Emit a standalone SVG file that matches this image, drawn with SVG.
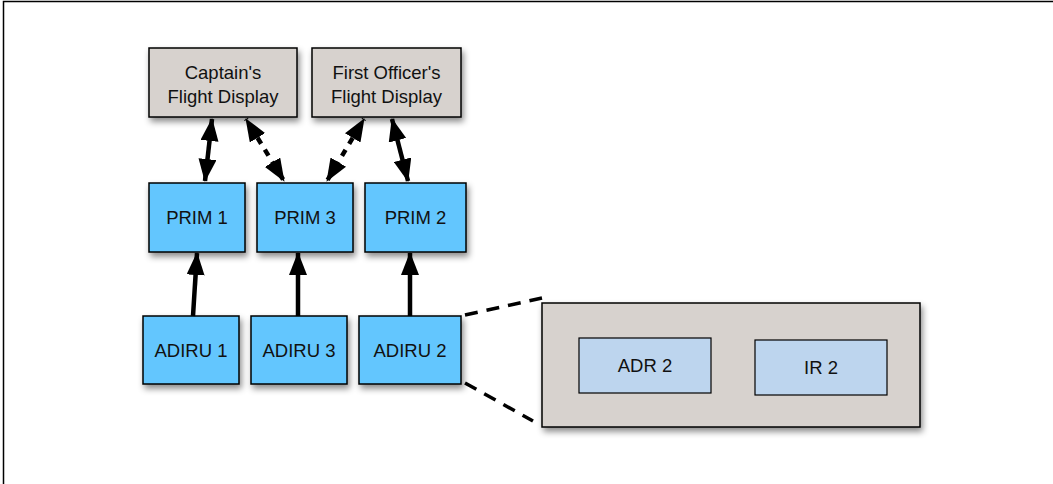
<svg xmlns="http://www.w3.org/2000/svg" width="1053" height="484" viewBox="0 0 1053 484">
  <style>
    .box { stroke: #000; stroke-width: 1.5; filter: url(#shadow); }
    .grey { fill: #d7d2ce; }
    .blue { fill: #63c6fe; }
    .pale { fill: #bdd5ee; stroke: #000; stroke-width: 1.2; }
    .label { font-family: "Liberation Sans", Arial, sans-serif; font-size: 18.5px; fill: #111; text-anchor: middle; }
    .link { stroke: #000; stroke-width: 4.5; fill: none; }
    .dash { stroke-dasharray: 7 7; }
    .guide { stroke: #000; stroke-width: 3.5; fill: none; stroke-dasharray: 13 9; }
  </style>
  <defs>
    <filter id="shadow" x="-20%" y="-20%" width="150%" height="160%">
      <feDropShadow dx="2" dy="4" stdDeviation="3" flood-color="#000" flood-opacity="0.45"/>
    </filter>
    <marker id="head" viewBox="0 0 23 18" refX="22" refY="9" markerWidth="23" markerHeight="18" markerUnits="userSpaceOnUse" orient="auto-start-reverse">
      <path d="M0,0 L23,9 L0,18 Z" fill="#000"/>
    </marker>
  </defs>

  <!-- page frame -->
  <path d="M3.5,484 V1.5 H1053" fill="none" stroke="#000" stroke-width="1.5"/>

  <g id="captain-display">
    <rect class="box grey" x="149" y="48" width="148" height="69"/>
    <text class="label" x="223" y="79">Captain's</text>
    <text class="label" x="223" y="103">Flight Display</text>
  </g>
  <g id="fo-display">
    <rect class="box grey" x="312" y="48" width="149" height="69"/>
    <text class="label" x="386.5" y="79">First Officer's</text>
    <text class="label" x="386.5" y="103">Flight Display</text>
  </g>

  <g id="prim1">
    <rect class="box blue" x="149" y="183" width="96" height="69"/>
    <text class="label" x="197" y="224">PRIM 1</text>
  </g>
  <g id="prim3">
    <rect class="box blue" x="257" y="183" width="96" height="69"/>
    <text class="label" x="305" y="224">PRIM 3</text>
  </g>
  <g id="prim2">
    <rect class="box blue" x="365" y="183" width="101" height="69"/>
    <text class="label" x="415.5" y="224">PRIM 2</text>
  </g>

  <g id="adiru1">
    <rect class="box blue" x="143" y="316" width="96" height="68"/>
    <text class="label" x="191" y="357">ADIRU 1</text>
  </g>
  <g id="adiru3">
    <rect class="box blue" x="251" y="316" width="96" height="68"/>
    <text class="label" x="299" y="357">ADIRU 3</text>
  </g>
  <g id="adiru2">
    <rect class="box blue" x="359" y="316" width="102" height="68"/>
    <text class="label" x="410" y="357">ADIRU 2</text>
  </g>

  <g id="adiru2-detail">
    <rect class="box grey" x="542" y="303" width="378" height="124"/>
    <g id="adr2">
      <rect class="pale" x="579" y="338" width="132" height="55"/>
      <text class="label" x="645" y="372">ADR 2</text>
    </g>
    <g id="ir2">
      <rect class="pale" x="755" y="340" width="132" height="55"/>
      <text class="label" x="821" y="374">IR 2</text>
    </g>
  </g>

  <g id="connectors">
    <!-- display <-> PRIM links -->
    <line class="link" x1="212" y1="119" x2="205" y2="181" marker-start="url(#head)" marker-end="url(#head)"/>
    <line class="link dash" x1="246" y1="119" x2="284" y2="181" marker-start="url(#head)" marker-end="url(#head)" stroke-dashoffset="-22"/>
    <line class="link dash" x1="364" y1="119" x2="327" y2="181" marker-start="url(#head)" marker-end="url(#head)" stroke-dashoffset="-22"/>
    <line class="link" x1="392" y1="119" x2="408" y2="181" marker-start="url(#head)" marker-end="url(#head)"/>
    <!-- ADIRU -> PRIM feeds -->
    <line class="link" x1="193" y1="316" x2="197" y2="253" marker-end="url(#head)"/>
    <line class="link" x1="298" y1="316" x2="298" y2="253" marker-end="url(#head)"/>
    <line class="link" x1="410" y1="316" x2="410" y2="253" marker-end="url(#head)"/>
    <!-- guides out to the ADIRU 2 breakdown -->
    <line class="guide" x1="465" y1="315" x2="542" y2="298"/>
    <line class="guide" x1="465" y1="383" x2="533" y2="421"/>
  </g>
</svg>
